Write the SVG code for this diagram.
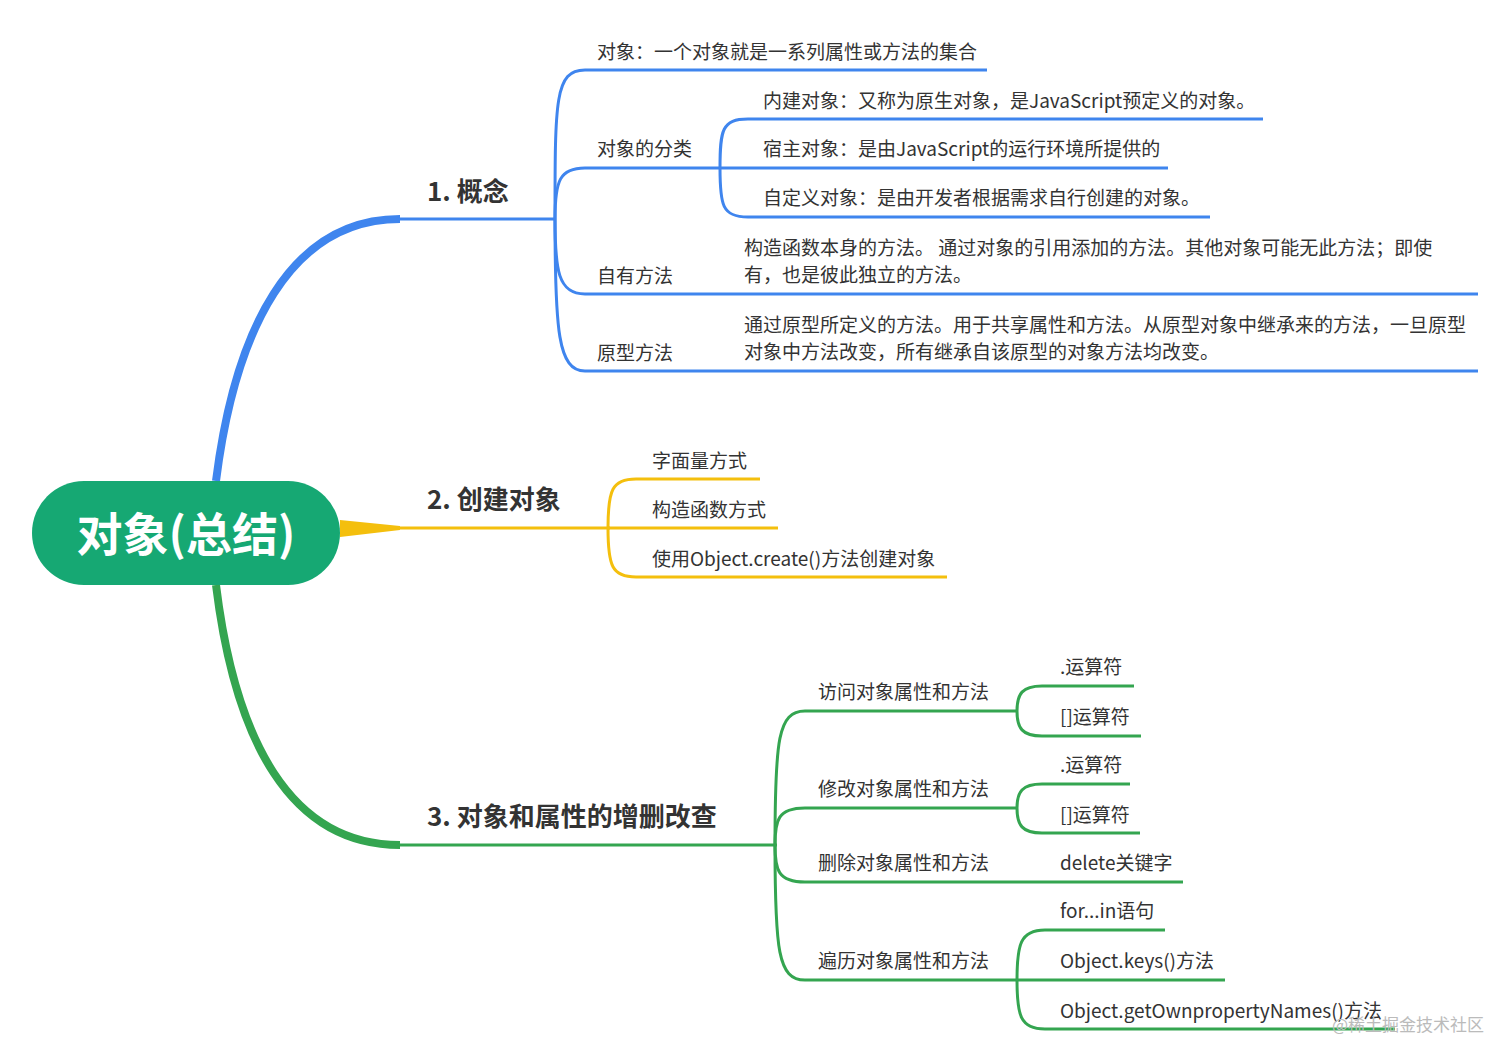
<svg xmlns="http://www.w3.org/2000/svg" width="1512" height="1062" viewBox="0 0 1512 1062">
<style>
text{font-family:"Noto Sans CJK SC","Noto Sans",sans-serif;fill:#333;font-size:19px}
.m{font-size:26px;font-weight:bold}
.b{stroke:#3f85ee;fill:none;stroke-width:3}
.y{stroke:#f4bf0d;fill:none;stroke-width:3}
.g{stroke:#34a550;fill:none;stroke-width:3}
</style>
<rect width="1512" height="1062" fill="#fff"/>
<g id="connectors">
<path d="M216,481 C235,330 290,219 400,219" stroke="#3f85ee" stroke-width="8" fill="none"/>
<path class="b" d="M398,219 H555"/>
<path d="M340,520 L400,526 L400,530 L340,537 Z" fill="#f4bf0d"/>
<path class="y" d="M398,528 H610"/>
<path d="M216,585 C235,740 290,845 400,845" stroke="#34a550" stroke-width="8" fill="none"/>
<path class="g" d="M398,845 H777"/>
<!-- blue -->
<path class="b" d="M555,219 C555,100 555,70 585,70 H987"/>
<path class="b" d="M555,219 C555,180 560,168 585,168 H720"/>
<path class="b" d="M555,219 C555,270 558,294 585,294 H1478"/>
<path class="b" d="M555,219 C555,330 558,371 585,371 H1478"/>
<path class="b" d="M720,168 C720,130 722,119 748,119 H1263"/>
<path class="b" d="M720,168 H1168"/>
<path class="b" d="M720,168 C720,205 722,217 748,217 H1210"/>
<!-- yellow -->
<path class="y" d="M608,528 C608,490 612,479 636,479 H760"/>
<path class="y" d="M608,528 H778"/>
<path class="y" d="M608,528 C608,566 612,577 636,577 H947"/>
<!-- green -->
<path class="g" d="M775,845 C775,740 778,711 805,711 H1017"/>
<path class="g" d="M775,845 C775,820 778,808 805,808 H1017"/>
<path class="g" d="M775,845 C775,870 778,882 805,882 H1183"/>
<path class="g" d="M775,845 C775,950 778,980 805,980 H1017"/>
<path class="g" d="M1017,711 C1017,694 1022,686 1042,686 H1134"/>
<path class="g" d="M1017,711 C1017,728 1022,736 1042,736 H1141"/>
<path class="g" d="M1017,808 C1017,792 1022,784 1042,784 H1130"/>
<path class="g" d="M1017,808 C1017,825 1022,833 1042,833 H1140"/>
<path class="g" d="M1017,980 C1017,945 1020,930 1045,930 H1165"/>
<path class="g" d="M1017,980 H1225"/>
<path class="g" d="M1017,980 C1017,1015 1020,1029 1045,1029 H1395"/>
</g>
<g id="root"><rect x="32" y="481" width="308" height="104" rx="52" fill="#16a873"/><text x="186" y="551" text-anchor="middle" style="fill:#fff;font-size:46px;font-weight:bold">对象(总结)</text></g>
<g id="n1"><text class="m" x="427" y="201">1. 概念</text></g>
<g id="n2"><text class="m" x="427" y="509">2. 创建对象</text></g>
<g id="n3"><text class="m" x="427" y="826">3. 对象和属性的增删改查</text></g>
<g id="n1a"><text x="597" y="59">对象：一个对象就是一系列属性或方法的集合</text></g>
<g id="n1b"><text x="597" y="156">对象的分类</text></g>
<g id="n1b1"><text x="763" y="108">内建对象：又称为原生对象，是JavaScript预定义的对象。</text></g>
<g id="n1b2"><text x="763" y="156">宿主对象：是由JavaScript的运行环境所提供的</text></g>
<g id="n1b3"><text x="763" y="205">自定义对象：是由开发者根据需求自行创建的对象。</text></g>
<g id="n1c"><text x="597" y="283">自有方法</text><text x="744" y="255">构造函数本身的方法。 通过对象的引用添加的方法。其他对象可能无此方法；即使</text><text x="744" y="282">有，也是彼此独立的方法。</text></g>
<g id="n1d"><text x="597" y="360">原型方法</text><text x="744" y="332">通过原型所定义的方法。用于共享属性和方法。从原型对象中继承来的方法，一旦原型</text><text x="744" y="359">对象中方法改变，所有继承自该原型的对象方法均改变。</text></g>
<g id="n2a"><text x="652" y="468">字面量方式</text></g>
<g id="n2b"><text x="652" y="517">构造函数方式</text></g>
<g id="n2c"><text x="652" y="566">使用Object.create()方法创建对象</text></g>
<g id="n3a"><text x="818" y="699">访问对象属性和方法</text><text x="1060" y="674">.运算符</text><text x="1060" y="724">[]运算符</text></g>
<g id="n3b"><text x="818" y="796">修改对象属性和方法</text><text x="1060" y="772">.运算符</text><text x="1060" y="822">[]运算符</text></g>
<g id="n3c"><text x="818" y="870">删除对象属性和方法</text><text x="1060" y="870">delete关键字</text></g>
<g id="n3d"><text x="818" y="968">遍历对象属性和方法</text><text x="1060" y="918">for...in语句</text><text x="1060" y="968">Object.keys()方法</text><text x="1060" y="1018">Object.getOwnpropertyNames()方法</text></g>
<text x="1484" y="1031" text-anchor="end" style="fill:#bbb;font-size:17px">@稀土掘金技术社区</text>
</svg>
